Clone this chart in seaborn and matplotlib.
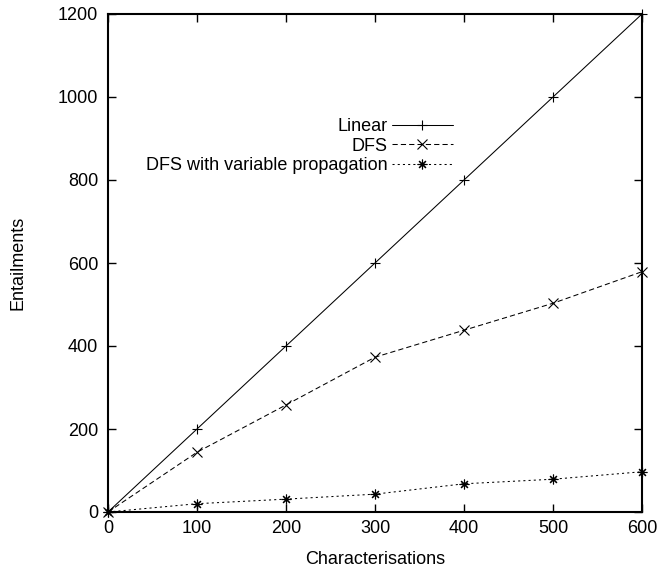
import numpy as np
import pandas as pd
import matplotlib
matplotlib.use("Agg")
import matplotlib.pyplot as plt
import seaborn as sns

# data
characterisations = [0, 100, 200, 300, 400, 500, 600]
linear = [0, 200, 400, 600, 800, 1000, 1200]
dfs = [0, 144, 258, 373, 438, 503, 579]
dfs_varprop = [0, 20, 31, 43, 68, 79, 97]

x_ticks = [0, 100, 200, 300, 400, 500, 600]
y_ticks = [0, 200, 400, 600, 800, 1000, 1200]

sns.set_style("ticks", {"axes.edgecolor": "black", "text.color": "black",
                        "axes.labelcolor": "black", "xtick.color": "black",
                        "ytick.color": "black"})
plt.rcParams['font.family'] = ['Liberation Sans', 'DejaVu Sans']
fs = 13
plt.rcParams['font.size'] = fs

fig = plt.figure(figsize=(6.6, 5.69), dpi=100)
ax = fig.add_axes([108 / 660, 57 / 569, 534 / 660, 498 / 569])

series = [
    ("Linear", linear, "+", "-"),
    ("DFS", dfs, "x", (0, (5, 3))),
    ("DFS with variable propagation", dfs_varprop, (8, 2, 0), (0, (2, 3))),
]
for label, vals, mk, ls in series:
    sns.lineplot(x=characterisations, y=vals, ax=ax, label=label, color="black",
                 marker=mk, markersize=7, markeredgewidth=0.8, markeredgecolor="black",
                 linestyle=ls, linewidth=0.75, clip_on=False)

ax.set_xlim(0, 600)
ax.set_ylim(0, 1200)
ax.set_xticks(x_ticks)
ax.set_yticks(y_ticks)
ax.set_xlabel("Characterisations")
ax.set_ylabel("Entailments")
ax.xaxis.set_label_coords(0.5, -0.078)
ax.yaxis.set_label_coords(-0.152, 0.5)
ax.tick_params(direction="in", length=6, width=1, top=True, right=True,
               labelsize=fs, colors="black")
ax.tick_params(axis="y", pad=7)
ax.tick_params(axis="x", pad=6)
for s in ax.spines.values():
    s.set_linewidth(1.5)
    s.set_color("black")
    s.set_visible(True)

leg = ax.legend(loc="upper right", bbox_to_anchor=(0.646, 0.791), markerfirst=False,
                frameon=False, handlelength=3.4, handletextpad=0.2, labelspacing=0.14,
                borderaxespad=0, borderpad=0, fontsize=fs)
for t in leg.get_texts():
    t.set_color("black")

fig.savefig("out.png", dpi=100)
